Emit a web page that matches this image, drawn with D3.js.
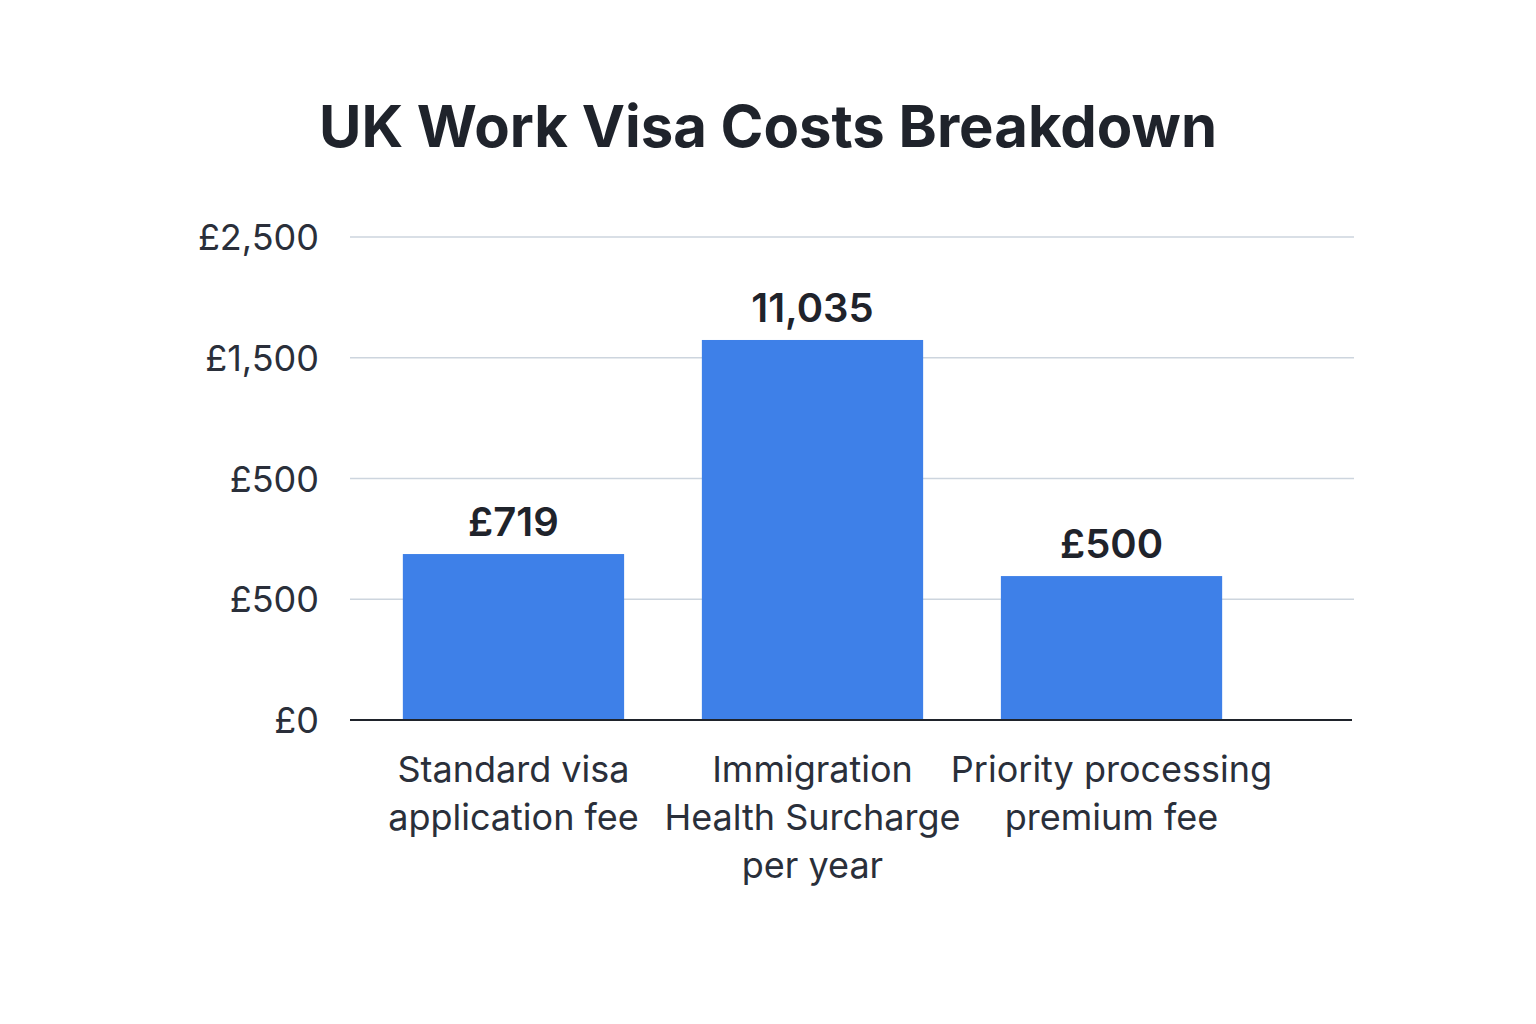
<!DOCTYPE html>
<html>
<head>
<meta charset="utf-8">
<script src="https://cdn.jsdelivr.net/npm/d3@7"></script>
<style>
  body { margin: 0; background: #fff; }
  svg text { font-family: Inter, "Noto Sans", sans-serif; }
</style>
</head>
<body>
<div id="chart"></div>
<script>
// chart data
const categories = [
    ['Standard visa', 'application fee'],
    ['Immigration', 'Health Surcharge', 'per year'],
    ['Priority processing', 'premium fee']
];
const barValues = [859, 1967, 745];
const barLabels = ['£719', '11,035', '£500'];
const tickValues = [0, 625, 1250, 1875, 2500];
const tickLabels = ['£0', '£500', '£500', '£1,500', '£2,500'];

const width = 1536, height = 1024;

const svg = d3.select('#chart').append('svg')
    .attr('width', width)
    .attr('height', height);

svg.append('text')
    .attr('x', 768)
    .attr('y', 147)
    .attr('text-anchor', 'middle')
    .attr('font-size', 58)
    .attr('font-weight', 700)
    .attr('fill', '#1f232b')
    .text('UK Work Visa Costs Breakdown');

const yscale = d3.scaleLinear()
    .domain([0, 2500])
    .range([720, 237]);

const xscale = d3.scaleBand()
    .domain(d3.range(categories.length))
    .range([355, 1270])
    .paddingInner(0.26)
    .paddingOuter(0.16);

// gridlines
svg.append('g')
    .selectAll('line')
    .data(tickValues.slice(1))
    .join('line')
    .attr('x1', 350)
    .attr('x2', 1354)
    .attr('y1', d => yscale(d))
    .attr('y2', d => yscale(d))
    .attr('stroke', '#cdd5de')
    .attr('stroke-width', 1.5);

// y axis labels
const yaxis = d3.axisLeft(yscale)
    .tickValues(tickValues)
    .tickFormat((d, i) => tickLabels[i])
    .tickSize(0)
    .tickPadding(0);

const yg = svg.append('g')
    .attr('transform', 'translate(319,0)')
    .call(yaxis);
yg.select('.domain').remove();
yg.selectAll('text')
    .attr('font-size', 36)
    .attr('fill', '#2a2f3a')
    .attr('dy', '0.35em');

// bars
svg.append('g')
    .selectAll('rect')
    .data(barValues)
    .join('rect')
    .attr('x', (d, i) => xscale(i))
    .attr('width', xscale.bandwidth())
    .attr('y', d => yscale(d))
    .attr('height', d => yscale(0) - yscale(d))
    .attr('fill', '#3e80e8');

// value labels
svg.append('g')
    .selectAll('text')
    .data(barValues)
    .join('text')
    .attr('x', (d, i) => xscale(i) + xscale.bandwidth() / 2)
    .attr('y', d => yscale(d) - 18)
    .attr('text-anchor', 'middle')
    .attr('font-size', 40)
    .attr('font-weight', 600)
    .attr('fill', '#1f232b')
    .text((d, i) => barLabels[i]);

// baseline
svg.append('line')
    .attr('x1', 350)
    .attr('x2', 1352)
    .attr('y1', yscale(0))
    .attr('y2', yscale(0))
    .attr('stroke', '#1f232b')
    .attr('stroke-width', 2);

// category labels
const xg = svg.append('g');
categories.forEach((lines, i) => {
    const t = xg.append('text')
        .attr('x', xscale(i) + xscale.bandwidth() / 2)
        .attr('y', 782)
        .attr('text-anchor', 'middle')
        .attr('font-size', 36)
        .attr('fill', '#2a2f3a');
    lines.forEach((s, j) => {
        t.append('tspan')
            .attr('x', xscale(i) + xscale.bandwidth() / 2)
            .attr('dy', j === 0 ? 0 : 48)
            .text(s);
    });
});
</script>
</body>
</html>
